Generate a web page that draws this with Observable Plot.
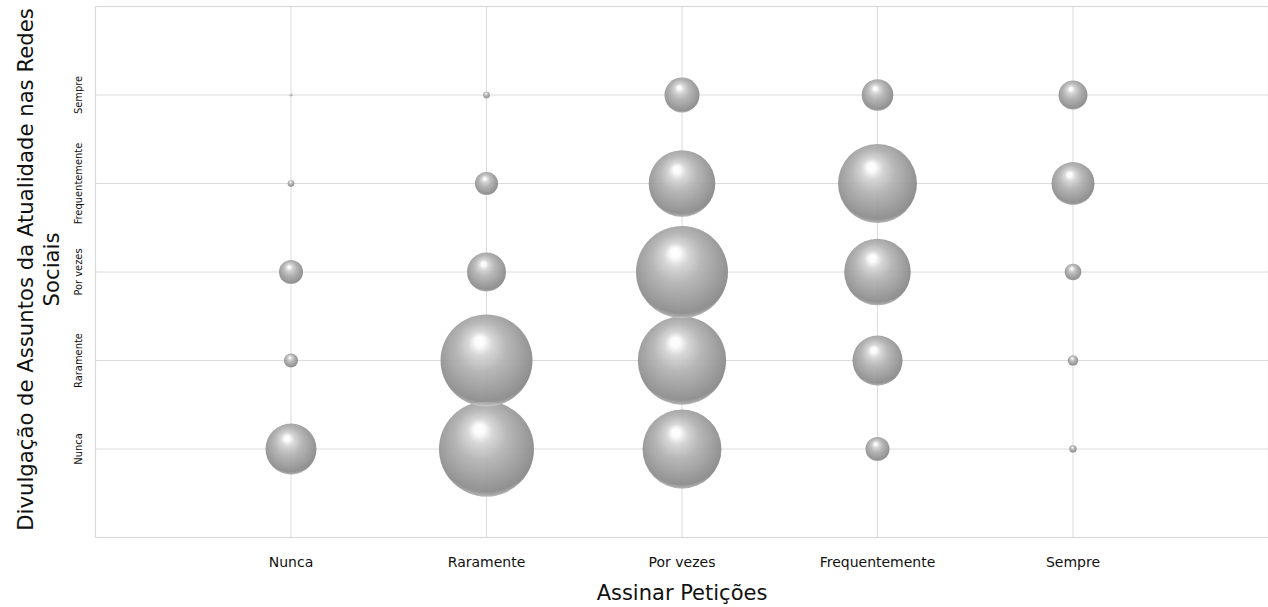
<!DOCTYPE html>
<html>
<head>
<meta charset="utf-8">
<script src="https://cdn.jsdelivr.net/npm/d3@7"></script>
<script src="https://cdn.jsdelivr.net/npm/@observablehq/plot@0.6"></script>
<style>
  html, body { margin: 0; padding: 0; background: #fff; }
  #chart svg { display: block; }
</style>
</head>
<body>
<div id="chart"></div>
<script>
// Categories (ordered, shared by both axes)
const levels = ["Nunca", "Raramente", "Por vezes", "Frequentemente", "Sempre"];
const xTitle = "Assinar Petições";
const yTitle = ["Divulgação de Assuntos da Atualidade nas Redes", "Sociais"];

// Bubble sizes per "Assinar Petições" level, listed by y level (Nunca → Sempre)
const peticoesNunca          = [289, 22, 64, 5, 1];
const peticoesRaramente      = [1003, 940, 169, 59, 5];
const peticoesPorVezes       = [693, 868, 940, 493, 136];
const peticoesFrequentemente = [64, 278, 493, 693, 111];
const peticoesSempre         = [6, 12, 31, 205, 93];

const columns = [peticoesNunca, peticoesRaramente, peticoesPorVezes, peticoesFrequentemente, peticoesSempre];
const data = [];
columns.forEach((col, xi) => col.forEach((v, yi) => data.push({x: xi + 1, y: yi + 1, value: v})));
const maxVal = d3.max(data, d => d.value);

const W = 1268, H = 607;
const chart = Plot.plot({
  width: W,
  height: H,
  marginLeft: 95,
  marginRight: 0,
  marginTop: 6,
  marginBottom: 70,
  style: {fontFamily: "DejaVu Sans, sans-serif", background: "#fff", overflow: "visible"},
  x: {domain: [0, 6], axis: null},
  y: {domain: [0, 6], axis: null},
  r: {type: "sqrt", domain: [0, maxVal], range: [0, 47.5]},
  marks: [
    Plot.gridX([1, 2, 3, 4, 5], {stroke: "#dcdcdc", strokeOpacity: 1, strokeWidth: 1}),
    Plot.gridY([1, 2, 3, 4, 5], {stroke: "#dcdcdc", strokeOpacity: 1, strokeWidth: 1}),
    Plot.frame({stroke: "#d9d9d9", strokeWidth: 1.2}),
    Plot.dot(data, {x: "x", y: "y", r: "value", fill: "url(#sphere)", fillOpacity: 0.93, stroke: "none", sort: {channel: "y", order: "descending"}}),
    Plot.dot(data, {x: "x", y: "y", r: "value", fill: "url(#rim)", stroke: "none"}),
    Plot.axisX([1, 2, 3, 4, 5], {tickSize: 0, tickPadding: 20, fontSize: 14, fill: "#111", tickFormat: d => levels[d - 1], label: null, fontFamily: "DejaVu Sans, sans-serif"}),
    Plot.axisY([1, 2, 3, 4, 5], {tickSize: 0, tickPadding: 14, fontSize: 11, fill: "#111", tickRotate: -90, tickFormat: d => levels[d - 1], label: null, textAnchor: "middle", fontFamily: "DejaVu Sans Condensed, DejaVu Sans, sans-serif"})
  ]
});

const svg = d3.select(chart.tagName.toLowerCase() === "svg" ? chart : chart.querySelector("svg"));
const defs = svg.insert("defs", ":first-child");
const g = defs.append("radialGradient").attr("id", "sphere")
  .attr("cx", 0.48).attr("cy", 0.44).attr("r", 0.6).attr("fx", 0.42).attr("fy", 0.28);
[[0, "#ffffff"], [0.09, "#fbfbfb"], [0.22, "#d4d4d4"], [0.45, "#b2b2b2"], [0.75, "#969696"], [0.92, "#868686"], [1, "#8a8a8a"]]
  .forEach(([o, c]) => g.append("stop").attr("offset", o).attr("stop-color", c));
const rim = defs.append("radialGradient").attr("id", "rim")
  .attr("cx", 0.5).attr("cy", 0.38).attr("r", 0.66);
[[0, "#ffffff", 0], [0.86, "#ffffff", 0], [0.96, "#ffffff", 0.45], [1, "#ffffff", 0.2]]
  .forEach(([o, c, a]) => rim.append("stop").attr("offset", o).attr("stop-color", c).attr("stop-opacity", a));

// Axis titles
const plotLeft = 95, plotRight = W, plotTop = 6, plotBottom = H - 70;
svg.append("text")
  .attr("x", (plotLeft + plotRight) / 2 + 0.5).attr("y", 600)
  .attr("text-anchor", "middle")
  .attr("font-family", "DejaVu Sans, sans-serif").attr("font-size", 21).attr("fill", "#111")
  .text(xTitle);
const yt = svg.append("text")
  .attr("transform", `translate(33,${(plotTop + plotBottom) / 2 - 2}) rotate(-90)`)
  .attr("text-anchor", "middle")
  .attr("font-family", "DejaVu Sans, sans-serif").attr("font-size", 21.2).attr("fill", "#111");
yTitle.forEach((line, i) => yt.append("tspan").attr("x", 0).attr("dy", i === 0 ? 0 : 26).text(line));

document.getElementById("chart").appendChild(chart);
</script>
</body>
</html>
